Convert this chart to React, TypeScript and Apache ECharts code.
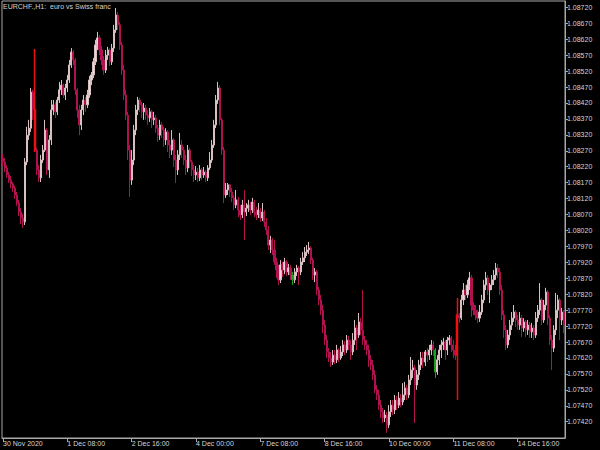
import React, { useEffect, useRef } from "react";
import * as echarts from "echarts";

const chartTitle = "EURCHF.,H1:  euro vs Swiss franc";
const firstOpen = 1.08247;

const closes = [
  1.08235, 1.08216, 1.08194, 1.08178, 1.08166, 1.08153, 1.08131, 1.08106, 1.08078, 1.08059,
  1.08047, 1.08235, 1.08319, 1.08341, 1.08454, 1.08398, 1.08272, 1.0821, 1.08185, 1.08241,
  1.08272, 1.08335, 1.0821, 1.08304, 1.08398, 1.08414, 1.08392, 1.08429, 1.08461, 1.08476,
  1.08445, 1.08467, 1.08492, 1.08539, 1.0858, 1.08555, 1.08461, 1.08398, 1.08351, 1.08398,
  1.08429, 1.08414, 1.08445, 1.08492, 1.08508, 1.08549, 1.08602, 1.08624, 1.08586, 1.08555,
  1.08523, 1.0857, 1.08586, 1.08549, 1.08592, 1.08649, 1.08696, 1.08665, 1.08602, 1.08523,
  1.08445, 1.08382, 1.08272, 1.08178, 1.08241, 1.08335, 1.08398, 1.08429, 1.08414, 1.08392,
  1.08404, 1.08382, 1.08373, 1.08392, 1.08367, 1.08373, 1.08341, 1.08319, 1.08351, 1.08335,
  1.08304, 1.08329, 1.08288, 1.08272, 1.08304, 1.08241, 1.0821, 1.08257, 1.08288, 1.08272,
  1.08241, 1.08216, 1.08272, 1.08235, 1.0821, 1.08194, 1.08203, 1.08185, 1.0821, 1.08194,
  1.08203, 1.08185, 1.08216, 1.08241, 1.08288, 1.08351, 1.08429, 1.08467, 1.08367, 1.08272,
  1.08131, 1.08147, 1.08163, 1.08141, 1.08122, 1.081, 1.08116, 1.08084, 1.08069, 1.081,
  1.08078, 1.0809, 1.081, 1.08084, 1.08109, 1.08078, 1.08069, 1.08084, 1.08059, 1.08078,
  1.08047, 1.08022, 1.07974, 1.0799, 1.07959, 1.07921, 1.07896, 1.07865, 1.07912, 1.07896,
  1.07921, 1.0789, 1.07902, 1.0788, 1.07865, 1.0789, 1.07902, 1.0789, 1.07921, 1.07934,
  1.07952, 1.07959, 1.07965, 1.07927, 1.0788, 1.0789, 1.07833, 1.07802, 1.0777, 1.07723,
  1.07676, 1.07639, 1.0762, 1.07607, 1.07629, 1.07614, 1.07645, 1.0762, 1.07639, 1.07661,
  1.07645, 1.07676, 1.07661, 1.07639, 1.07676, 1.07714, 1.07692, 1.07733, 1.07708, 1.07676,
  1.07661, 1.07645, 1.07614, 1.07598, 1.07567, 1.0752, 1.07504, 1.07472, 1.07451, 1.07432,
  1.07441, 1.0741, 1.07451, 1.07472, 1.07457, 1.07488, 1.07472, 1.07494, 1.07482, 1.07504,
  1.07526, 1.07504, 1.07551, 1.07582, 1.07589, 1.07535, 1.07567, 1.07598, 1.0762, 1.07607,
  1.07639, 1.07629, 1.07645, 1.07661, 1.07645, 1.07576, 1.07614, 1.07645, 1.07661, 1.0767,
  1.07645, 1.07676, 1.07683, 1.07661, 1.07645, 1.07629, 1.07755, 1.07745, 1.07802, 1.07833,
  1.07818, 1.07849, 1.07871, 1.07786, 1.0777, 1.07755, 1.07745, 1.07764, 1.07802, 1.07849,
  1.07871, 1.07833, 1.07849, 1.07865, 1.0788, 1.07902, 1.0789, 1.07833, 1.07755, 1.07708,
  1.07661, 1.07692, 1.07723, 1.07745, 1.07764, 1.07739, 1.07723, 1.07745, 1.07714, 1.07733,
  1.07708, 1.07723, 1.07702, 1.07714, 1.07692, 1.07745, 1.0777, 1.07802, 1.07739, 1.07786,
  1.07827, 1.07745, 1.07676, 1.07651, 1.07708, 1.0777, 1.07802, 1.07739, 1.07764, 1.07723,
];

const highs = [
  1.0826, 1.08247, 1.08225, 1.08203, 1.08191, 1.08172, 1.0816, 1.08141, 1.08116, 1.0809,
  1.08072, 1.08247, 1.08345, 1.08367, 1.08467, 1.08461, 1.08589, 1.08279, 1.08225, 1.08257,
  1.08288, 1.08367, 1.08341, 1.08319, 1.08429, 1.08429, 1.08423, 1.08439, 1.08486, 1.08492,
  1.0848, 1.0848, 1.08508, 1.08555, 1.08592, 1.08586, 1.08561, 1.08467, 1.08414, 1.08414,
  1.08445, 1.08439, 1.08461, 1.08505, 1.08517, 1.08561, 1.08618, 1.08643, 1.08633, 1.08599,
  1.08567, 1.08586, 1.08596, 1.08592, 1.08605, 1.08665, 1.08718, 1.08705, 1.08674, 1.08611,
  1.08539, 1.08461, 1.08392, 1.08288, 1.08272, 1.08351, 1.08414, 1.08439, 1.08436, 1.08423,
  1.0842, 1.08414, 1.08398, 1.08404, 1.08398, 1.08392, 1.08382, 1.08351, 1.08367, 1.0836,
  1.08345, 1.08341, 1.08335, 1.08304, 1.08335, 1.0831, 1.08257, 1.08272, 1.08326, 1.08304,
  1.08282, 1.08257, 1.08288, 1.08279, 1.08241, 1.08225, 1.08222, 1.08216, 1.08225, 1.08216,
  1.08219, 1.0821, 1.08225, 1.08266, 1.08304, 1.08367, 1.08445, 1.08486, 1.08476, 1.08373,
  1.08282, 1.08169, 1.08169, 1.08166, 1.08153, 1.08131, 1.08147, 1.08125, 1.081, 1.08116,
  1.08147, 1.08106, 1.08116, 1.08109, 1.08122, 1.08116, 1.08094, 1.08106, 1.0809, 1.08106,
  1.08084, 1.08059, 1.08034, 1.08003, 1.07996, 1.0799, 1.07934, 1.07912, 1.07927, 1.07921,
  1.07934, 1.07927, 1.07915, 1.07912, 1.0789, 1.07902, 1.07912, 1.07909, 1.07934, 1.07952,
  1.07968, 1.07974, 1.07984, 1.07971, 1.07934, 1.07902, 1.07896, 1.07843, 1.07818, 1.07786,
  1.07739, 1.07692, 1.07651, 1.07639, 1.07645, 1.07645, 1.07661, 1.07651, 1.07658, 1.07676,
  1.07673, 1.07692, 1.07689, 1.07676, 1.07698, 1.07739, 1.07723, 1.07761, 1.07745, 1.07833,
  1.07689, 1.07676, 1.07661, 1.07629, 1.07614, 1.07582, 1.07535, 1.0752, 1.07488, 1.07463,
  1.07457, 1.07451, 1.07472, 1.07488, 1.07488, 1.07504, 1.07501, 1.07513, 1.07507, 1.07541,
  1.07545, 1.07535, 1.07567, 1.07623, 1.07614, 1.07598, 1.07582, 1.07614, 1.07639, 1.07639,
  1.07645, 1.07651, 1.07661, 1.07676, 1.07673, 1.07651, 1.07629, 1.07661, 1.07676, 1.07683,
  1.07676, 1.07686, 1.07692, 1.07689, 1.07676, 1.07661, 1.07808, 1.07761, 1.07818, 1.07855,
  1.07849, 1.07865, 1.0789, 1.0788, 1.07796, 1.07786, 1.0777, 1.07786, 1.07818, 1.07865,
  1.0789, 1.0788, 1.07855, 1.0788, 1.07896, 1.07918, 1.07915, 1.07902, 1.07849, 1.0777,
  1.07723, 1.07708, 1.07739, 1.07764, 1.07786, 1.0777, 1.07755, 1.07764, 1.07755, 1.07745,
  1.07739, 1.07739, 1.07733, 1.0773, 1.07723, 1.07764, 1.07786, 1.07855, 1.07808, 1.07802,
  1.0784, 1.07833, 1.07755, 1.07692, 1.07723, 1.07824, 1.07818, 1.07808, 1.07777, 1.0777,
];

const lows = [
  1.08222, 1.08203, 1.08185, 1.08169, 1.08153, 1.08141, 1.08119, 1.08097, 1.08065, 1.0804,
  1.08028, 1.08037, 1.08225, 1.08304, 1.08329, 1.08367, 1.08266, 1.08194, 1.08172, 1.08172,
  1.08232, 1.08266, 1.08194, 1.08185, 1.08288, 1.08382, 1.08373, 1.08382, 1.0842, 1.08445,
  1.08436, 1.08429, 1.08454, 1.08483, 1.0853, 1.08539, 1.08445, 1.08373, 1.08319, 1.08335,
  1.08382, 1.08392, 1.08404, 1.08436, 1.08476, 1.08498, 1.08539, 1.08586, 1.0857, 1.08539,
  1.08508, 1.08514, 1.08555, 1.08536, 1.08539, 1.0858, 1.0864, 1.08649, 1.08586, 1.08508,
  1.08429, 1.08367, 1.08241, 1.08125, 1.08163, 1.08225, 1.08319, 1.08382, 1.08392, 1.08373,
  1.08367, 1.08367, 1.08351, 1.0836, 1.08341, 1.08351, 1.08326, 1.08298, 1.08304, 1.0831,
  1.08282, 1.08288, 1.08266, 1.08247, 1.08257, 1.08219, 1.08169, 1.08194, 1.08241, 1.08247,
  1.08225, 1.08194, 1.08203, 1.08216, 1.08191, 1.08172, 1.08178, 1.08172, 1.08175, 1.08178,
  1.08185, 1.08172, 1.08175, 1.0821, 1.08232, 1.08279, 1.08341, 1.08417, 1.08351, 1.08257,
  1.08106, 1.08122, 1.08131, 1.08125, 1.08109, 1.08084, 1.0809, 1.08062, 1.08053, 1.08059,
  1.0799, 1.08065, 1.08078, 1.08069, 1.08075, 1.08062, 1.08053, 1.08059, 1.08047, 1.0805,
  1.08031, 1.08006, 1.07959, 1.07949, 1.07943, 1.07912, 1.07871, 1.07849, 1.07855, 1.07874,
  1.07883, 1.07877, 1.0788, 1.07865, 1.07849, 1.07855, 1.07877, 1.07849, 1.0788, 1.07912,
  1.07921, 1.0794, 1.07946, 1.07915, 1.07865, 1.07858, 1.07818, 1.07786, 1.07755, 1.07698,
  1.07661, 1.0762, 1.07607, 1.07592, 1.07598, 1.07601, 1.07604, 1.07607, 1.07614, 1.07626,
  1.07629, 1.07636, 1.07645, 1.07614, 1.07629, 1.07661, 1.07645, 1.07683, 1.07692, 1.07661,
  1.07645, 1.07629, 1.07592, 1.07582, 1.07551, 1.0751, 1.07488, 1.07457, 1.07432, 1.07416,
  1.07419, 1.07385, 1.074, 1.07435, 1.07441, 1.07444, 1.07457, 1.07463, 1.07466, 1.07472,
  1.07488, 1.07488, 1.07494, 1.07535, 1.07557, 1.07416, 1.0752, 1.07551, 1.07582, 1.07589,
  1.07595, 1.07607, 1.07614, 1.07629, 1.07626, 1.07557, 1.07567, 1.07598, 1.0762, 1.07645,
  1.07614, 1.07629, 1.07661, 1.07639, 1.0762, 1.07614, 1.07488, 1.0773, 1.07739, 1.07786,
  1.07802, 1.07808, 1.07833, 1.07749, 1.07755, 1.07739, 1.0773, 1.07733, 1.07755, 1.07792,
  1.07833, 1.07818, 1.07792, 1.07833, 1.07849, 1.07865, 1.07871, 1.07818, 1.07739, 1.07683,
  1.07645, 1.07651, 1.07676, 1.07708, 1.07733, 1.07717, 1.07708, 1.07708, 1.07686, 1.07702,
  1.07686, 1.07692, 1.07683, 1.07683, 1.07676, 1.07683, 1.07733, 1.07755, 1.07723, 1.0773,
  1.0777, 1.07723, 1.07661, 1.07582, 1.07639, 1.07692, 1.07745, 1.07676, 1.07723, 1.07698,
];

const xTickLabels = [
  "30 Nov 2020", "1 Dec 08:00", "2 Dec 16:00", "4 Dec 00:00", "7 Dec 08:00",
  "8 Dec 16:00", "10 Dec 00:00", "11 Dec 08:00", "14 Dec 16:00",
];
const barsPerXTick = 32;

const yTickValues = [
  1.0742, 1.0747, 1.0752, 1.0757, 1.0762, 1.0767, 1.0772, 1.0777, 1.0782, 1.0787,
  1.0792, 1.0797, 1.0802, 1.0807, 1.0812, 1.0817, 1.0822, 1.0827, 1.0832, 1.0837,
  1.0842, 1.0847, 1.0852, 1.0857, 1.0862, 1.0867, 1.0872,
];
const yMin = 1.073689;
const yMax = 1.087398;

const redBars = [16, 226];
const greenBars = [144, 215];

const BULL = "#f2d6d6";
const BULL_EDGE = "#d8c0c0";
const BEAR = "#b01250";
const AXIS = "#a8a8a8";
const TEXT = "#d4d4d4";
const FONT = "'Liberation Sans', Arial, sans-serif";

export default function App() {
  const ref = useRef<HTMLDivElement>(null);
  useEffect(() => {
    const chart = echarts.init(ref.current!, null, { renderer: "svg" });
    const categories = closes.map((_, i) => String(i));
    const data = closes.map((c, i) => {
      const o = i === 0 ? firstOpen : closes[i - 1];
      const value = [o, c, lows[i], highs[i]];
      if (redBars.includes(i)) {
        const col = "#ee1010";
        return { value, itemStyle: { color: col, color0: col, borderColor: col, borderColor0: col, borderWidth: 1.5 } };
      }
      if (greenBars.includes(i)) {
        const col = "#1aa01a";
        return { value, itemStyle: { color: col, color0: col, borderColor: col, borderColor0: col } };
      }
      return value;
    });
    chart.setOption({
      animation: false,
      backgroundColor: "#000000",
      grid: {
        left: 2,
        right: 35,
        top: 1,
        bottom: 12,
        show: true,
        borderColor: AXIS,
        borderWidth: 1,
        backgroundColor: "#000000",
        containLabel: false,
        outerBoundsMode: "none",
      },
      graphic: [
        {
          type: "text",
          left: 3,
          top: 3,
          style: { text: chartTitle, fill: TEXT, font: `7px ${FONT}` },
        },
      ],
      xAxis: {
        type: "category",
        data: categories,
        boundaryGap: true,
        axisLine: { show: true, lineStyle: { color: AXIS, width: 1 } },
        axisTick: { show: true, interval: barsPerXTick - 1, alignWithLabel: true, length: 4, inside: false, lineStyle: { color: AXIS } },
        axisLabel: {
          show: true,
          interval: barsPerXTick - 1,
          align: "left",
          margin: 2,
          color: TEXT,
          fontSize: 7,
          fontFamily: FONT,
          formatter: (_v: string, idx: number) =>
            idx % barsPerXTick === 0 ? xTickLabels[idx / barsPerXTick] ?? "" : "",
        },
        splitLine: { show: false },
      },
      yAxis: {
        type: "value",
        position: "right",
        min: yMin,
        max: yMax,
        scale: true,
        axisLine: { show: true, lineStyle: { color: AXIS, width: 1 } },
        axisTick: { show: true, length: 3, customValues: yTickValues, lineStyle: { color: AXIS } },
        axisLabel: {
          show: true,
          customValues: yTickValues,
          margin: 2,
          color: TEXT,
          fontSize: 7,
          fontFamily: FONT,
          formatter: (v: number) => v.toFixed(5),
        },
        splitLine: { show: false },
      },
      series: [
        {
          type: "candlestick",
          data,
          barWidth: 1.6,
          itemStyle: {
            color: BULL,
            color0: BEAR,
            borderColor: BULL_EDGE,
            borderColor0: BEAR,
            borderWidth: 1,
          },
        },
      ],
    });
    return () => chart.dispose();
  }, []);
  return (
    <div
      ref={ref}
      style={{ position: "fixed", left: 0, top: 0, width: 600, height: 450, background: "#000" }}
    />
  );
}
